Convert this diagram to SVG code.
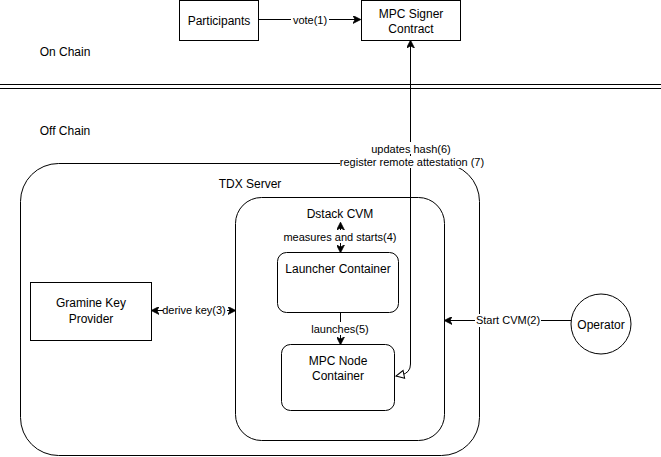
<svg xmlns="http://www.w3.org/2000/svg" width="661" height="457" viewBox="0 0 661 457">
<defs>
<style>
.box{fill:#fff;stroke:#000;stroke-width:1}
.ln{fill:none;stroke:#000;stroke-width:1}
.t{font-family:"Liberation Sans",Arial,sans-serif;font-size:12px;fill:#000;text-anchor:middle}
.e{font-family:"Liberation Sans",Arial,sans-serif;font-size:11px;fill:#000;text-anchor:middle}
.bg{fill:#fff}
</style>
<marker id="arr" viewBox="0 0 10 10" refX="9" refY="5" markerWidth="8" markerHeight="8" markerUnits="userSpaceOnUse" orient="auto-start-reverse">
<path d="M0,0 L10,5 L0,10 L3,5 Z" fill="#000" stroke="#000" stroke-width="1"/>
</marker>
<marker id="open" viewBox="0 0 10 10" refX="9" refY="5" markerWidth="10" markerHeight="10" markerUnits="userSpaceOnUse" orient="auto">
<path d="M1,1 L9,5 L1,9 Z" fill="#fff" stroke="#000" stroke-width="1"/>
</marker>
</defs>
<rect width="661" height="457" fill="#fff"/>
<g id="labels">
<text class="t" x="65" y="56">On Chain</text>
<text class="t" x="65" y="135">Off Chain</text>
</g>
<g id="separator">
<line class="ln" x1="0" y1="84.5" x2="661" y2="84.5"/>
<line class="ln" x1="0" y1="88.5" x2="661" y2="88.5"/>
</g>
<g id="tdx-server">
<rect class="box" x="20.5" y="163.5" width="459" height="292" rx="38" ry="38"/>
<text class="t" x="250" y="188">TDX Server</text>
</g>
<g id="dstack-cvm">
<rect class="box" x="235.5" y="197.5" width="209" height="243" rx="26" ry="26"/>
<text class="t" x="340" y="218">Dstack CVM</text>
</g>
<g id="launcher">
<rect class="box" x="277.5" y="252.5" width="121" height="60" rx="9" ry="9"/>
<text class="t" x="338" y="273">Launcher Container</text>
</g>
<g id="mpc-node">
<rect class="box" x="281.5" y="344.5" width="113" height="66" rx="9" ry="9"/>
<text class="t" x="338" y="365">MPC Node</text>
<text class="t" x="338" y="380">Container</text>
</g>
<g id="participants">
<rect class="box" x="179.5" y="0.5" width="79" height="40"/>
<text class="t" x="219" y="24.5">Participants</text>
</g>
<g id="mpc-signer">
<rect class="box" x="361.5" y="0.5" width="99" height="40"/>
<text class="t" x="411" y="18">MPC Signer</text>
<text class="t" x="411" y="33">Contract</text>
</g>
<g id="gramine">
<rect class="box" x="30.5" y="282.5" width="121" height="58"/>
<text class="t" x="91" y="307">Gramine Key</text>
<text class="t" x="91" y="323">Provider</text>
</g>
<g id="operator">
<circle class="box" cx="601" cy="324" r="30"/>
<text class="t" x="601" y="328.5">Operator</text>
</g>
<g id="connectors">
<line class="ln" x1="258.5" y1="19.5" x2="360" y2="19.5" marker-end="url(#arr)"/>
<rect class="bg" x="291" y="13" width="38" height="13"/>
<text class="e" x="310" y="23.5">vote(1)</text>

<path class="ln" d="M410.5,41 V364 Q410.5,373 401,375 L396,376" marker-start="url(#arr)" marker-end="url(#open)"/>
<rect class="bg" x="370" y="142" width="82" height="12"/>
<text class="e" x="411" y="152.5">updates hash(6)</text>
<rect class="bg" x="340" y="156" width="146" height="12"/>
<text class="e" x="412" y="166">register remote attestation (7)</text>

<line class="ln" x1="340.5" y1="223" x2="340.5" y2="252" marker-start="url(#arr)" marker-end="url(#arr)"/>
<rect class="bg" x="283" y="230" width="115" height="13"/>
<text class="e" x="340" y="240.5">measures and starts(4)</text>

<line class="ln" x1="340.5" y1="313" x2="340.5" y2="344" marker-end="url(#arr)"/>
<rect class="bg" x="309" y="322" width="62" height="13"/>
<text class="e" x="340" y="332.5">launches(5)</text>

<line class="ln" x1="152" y1="310.5" x2="235" y2="310.5" marker-start="url(#arr)" marker-end="url(#arr)"/>
<rect class="bg" x="163" y="304" width="64" height="13"/>
<text class="e" x="194" y="314">derive key(3)</text>

<line class="ln" x1="571" y1="320.5" x2="445" y2="320.5" marker-end="url(#arr)"/>
<rect class="bg" x="475" y="314" width="66" height="13"/>
<text class="e" x="508" y="324">Start CVM(2)</text>
</g>
</svg>
